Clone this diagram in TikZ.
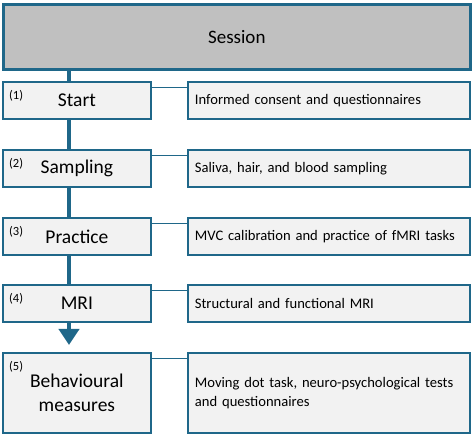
\documentclass[tikz,border=0pt]{standalone}
\usepackage{fontspec}
\setmainfont{Carlito}
\usetikzlibrary{arrows.meta}
\definecolor{edgeblue}{RGB}{31,103,137}
\definecolor{boxgray}{RGB}{242,242,242}
\definecolor{headgray}{RGB}{192,192,192}

\tikzset{
	headbox/.style={draw=edgeblue, line width=2.6pt, fill=headgray, anchor=north west,
		minimum width=467pt, minimum height=65pt, inner sep=0pt,
		font=\fontsize{19}{22}\selectfont},
	stepbox/.style={draw=edgeblue, line width=1.8pt, fill=boxgray, anchor=north west,
		minimum width=148pt, minimum height=37pt, inner sep=0pt, align=center,
		font=\fontsize{19.5}{24}\selectfont},
	infobox/.style={draw=edgeblue, line width=1.8pt, fill=boxgray, anchor=north west,
		minimum width=282pt, minimum height=37pt, inner xsep=7pt, inner ysep=0pt,
		text width=268pt, align=left, font=\fontsize{14.6}{19}\selectfont},
	numtag/.style={anchor=north west, inner sep=0pt, font=\fontsize{12.5}{14}\selectfont},
	spine/.style={draw=edgeblue, line width=4.5pt},
	link/.style={draw=edgeblue, line width=1pt}
}

\begin{document}
\begin{tikzpicture}[x=1pt,y=-1pt]
	\useasboundingbox (0,0) rectangle (472,435);
	
	% spine behind the boxes
	\coordinate (top) at (69,68);
	\coordinate (bend) at (69,322);
	\coordinate (tip) at (69,345);
	\draw[spine] (top) -- (bend);
	\draw[spine, -{Triangle[width=20pt,length=16pt]}] (bend) -- (tip);
	
	\node[headbox] (session) at (2,3) {Session};
	
	% left column
	\node[stepbox] (s1) at (2,81) {Start};
	\node[stepbox] (s2) at (2,149) {Sampling};
	\node[stepbox] (s3) at (2,217) {Practice};
	\node[stepbox] (s4) at (2,284) {MRI};
	\node[stepbox, minimum height=80pt] (s5) at (2,352) {Behavioural\\measures};
	
	% right column
	\node[infobox] (d1) at (187,81) {Informed consent and questionnaires};
	\node[infobox] (d2) at (187,149) {Saliva, hair, and blood sampling};
	\node[infobox] (d3) at (187,217) {MVC calibration and practice of fMRI tasks};
	\node[infobox] (d4) at (187,284) {Structural and functional MRI};
	\node[infobox, minimum height=80pt] (d5) at (187,352) {Moving dot task, neuro-psychological tests\\and questionnaires};
	
	\foreach \i in {1,...,5}{
		\node[numtag] (n\i) at ([xshift=7pt,yshift=-9pt]s\i.north west) {(\i)};
		\draw[link] ([yshift=-7pt]s\i.north east) -- ([yshift=-7pt]d\i.north west);
	}
\end{tikzpicture}
\end{document}
